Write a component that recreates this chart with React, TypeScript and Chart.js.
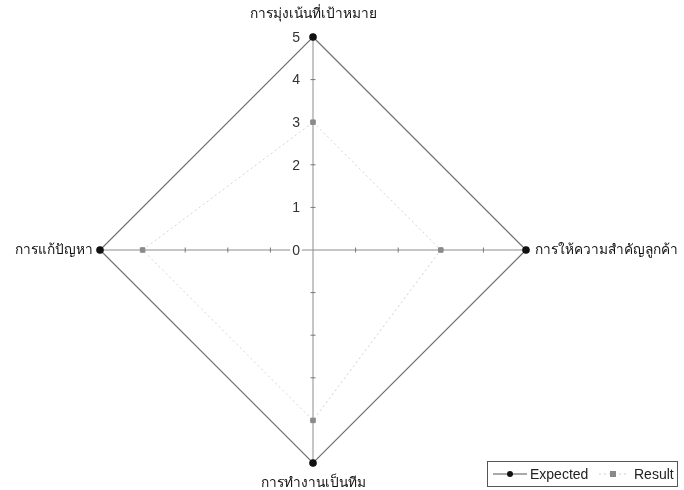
import React, { useEffect, useRef } from 'react';
import { Chart, registerables } from 'chart.js';

Chart.register(...registerables);

const CATEGORIES = ['การมุ่งเน้นที่เป้าหมาย', 'การให้ความสำคัญลูกค้า', 'การทำงานเป็นทีม', 'การแก้ปัญหา'];
const EXPECTED = [5, 5, 5, 5];
const RESULT = [3, 3, 4, 4];
const TICKS = [0, 1, 2, 3, 4, 5];
const SERIES_NAMES = ['Expected', 'Result'];

const THAI_FONT = "13.7px Tahoma, 'Noto Sans', 'DejaVu Sans', sans-serif";
const NUM_FONT = "14px 'Liberation Sans', Arial, sans-serif";

const overlayPlugin = {
  id: 'overlay',
  beforeDatasetsDraw(chart: any) {
    const scale = chart.scales.r;
    const ctx = chart.ctx;
    ctx.save();
    ctx.strokeStyle = '#777';
    ctx.lineWidth = 1;
    for (let i = 0; i < CATEGORIES.length; i++) {
      for (const v of TICKS) {
        if (v === 0 || v === TICKS[TICKS.length - 1]) continue;
        const p = scale.getPointPositionForValue(i, v);
        const px = -Math.sin(p.angle);
        const py = Math.cos(p.angle);
        ctx.beginPath();
        ctx.moveTo(p.x - px * 2.5, p.y - py * 2.5);
        ctx.lineTo(p.x + px * 2.5, p.y + py * 2.5);
        ctx.stroke();
      }
    }
    ctx.restore();
  },
  afterDraw(chart: any) {
    const scale = chart.scales.r;
    const ctx = chart.ctx;
    ctx.save();
    // tick labels on the first axis
    ctx.font = NUM_FONT;
    ctx.textAlign = 'right';
    ctx.textBaseline = 'middle';
    for (const v of TICKS) {
      const p = scale.getPointPositionForValue(0, v);
      const label = String(v);
      const w = ctx.measureText(label).width;
      if (v === 0) {
        ctx.fillStyle = '#fff';
        ctx.fillRect(p.x - 13 - w - 2, p.y - 7, w + 4, 14);
      }
      ctx.fillStyle = '#333';
      ctx.fillText(label, p.x - 13, p.y + 1);
    }
    // point labels
    ctx.font = THAI_FONT;
    ctx.fillStyle = '#111';
    for (let i = 0; i < CATEGORIES.length; i++) {
      const p = scale.getPointPositionForValue(i, scale.max);
      const c = Math.cos(p.angle);
      const s = Math.sin(p.angle);
      ctx.textBaseline = 'middle';
      if (Math.abs(c) < 0.01) {
        ctx.textAlign = 'center';
        ctx.fillText(CATEGORIES[i], p.x, s < 0 ? p.y - 23 : p.y + 20);
      } else if (c > 0) {
        ctx.textAlign = 'left';
        ctx.fillText(CATEGORIES[i], p.x + 9, p.y);
      } else {
        ctx.textAlign = 'right';
        ctx.fillText(CATEGORIES[i], p.x - 7, p.y);
      }
    }
    // legend
    const lx = 487.5, ly = 461.5, lw = 190, lh = 25;
    ctx.fillStyle = '#fff';
    ctx.fillRect(lx, ly, lw, lh);
    ctx.strokeStyle = '#555';
    ctx.lineWidth = 1;
    ctx.strokeRect(lx, ly, lw, lh);
    const cy = ly + lh / 2;
    // Expected
    ctx.strokeStyle = '#555';
    ctx.beginPath();
    ctx.moveTo(493, cy);
    ctx.lineTo(527, cy);
    ctx.stroke();
    ctx.fillStyle = '#111';
    ctx.beginPath();
    ctx.arc(510, cy, 3, 0, Math.PI * 2);
    ctx.fill();
    ctx.font = NUM_FONT;
    ctx.textAlign = 'left';
    ctx.textBaseline = 'middle';
    ctx.fillStyle = '#222';
    ctx.fillText(SERIES_NAMES[0], 530, cy + 1);
    // Result
    ctx.strokeStyle = '#cfcfcf';
    ctx.setLineDash([2, 3]);
    ctx.beginPath();
    ctx.moveTo(599, cy);
    ctx.lineTo(626, cy);
    ctx.stroke();
    ctx.setLineDash([]);
    ctx.fillStyle = '#8a8a8a';
    ctx.fillRect(610, cy - 3, 6, 6);
    ctx.fillStyle = '#222';
    ctx.fillText(SERIES_NAMES[1], 634, cy + 1);
    ctx.restore();
  },
};

export default function App() {
  const ref = useRef<HTMLCanvasElement | null>(null);
  useEffect(() => {
    if (!ref.current) return;
    const chart = new Chart(ref.current, {
      type: 'radar',
      data: {
        labels: CATEGORIES,
        datasets: [
          {
            label: SERIES_NAMES[0],
            data: EXPECTED,
            borderColor: '#707070',
            borderWidth: 1.2,
            backgroundColor: 'transparent',
            fill: false,
            pointStyle: 'circle',
            pointRadius: 3.2,
            pointBackgroundColor: '#111',
            pointBorderColor: '#111',
          },
          {
            label: SERIES_NAMES[1],
            data: RESULT,
            borderColor: '#d2d2d2',
            borderWidth: 1,
            borderDash: [2, 3],
            backgroundColor: 'transparent',
            fill: false,
            pointStyle: 'rect',
            pointRadius: 3.2,
            pointBackgroundColor: '#8a8a8a',
            pointBorderColor: '#8a8a8a',
          },
        ],
      },
      options: {
        responsive: false,
        animation: false,
        layout: { padding: { left: 99, right: 157, top: 37, bottom: 26 } },
        plugins: {
          legend: { display: false },
          tooltip: { enabled: false },
        },
        scales: {
          r: {
            min: 0,
            max: 5,
            ticks: { display: false, stepSize: 1 },
            grid: { display: false },
            angleLines: { display: true, color: '#8c8c8c', lineWidth: 1 },
            pointLabels: { display: false },
          },
        },
      },
      plugins: [overlayPlugin],
    });
    return () => chart.destroy();
  }, []);
  return (
    <div style={{ position: 'absolute', left: 0, top: 0, width: 684, height: 490, background: '#fff' }}>
      <canvas ref={ref} width={684} height={490} />
    </div>
  );
}
